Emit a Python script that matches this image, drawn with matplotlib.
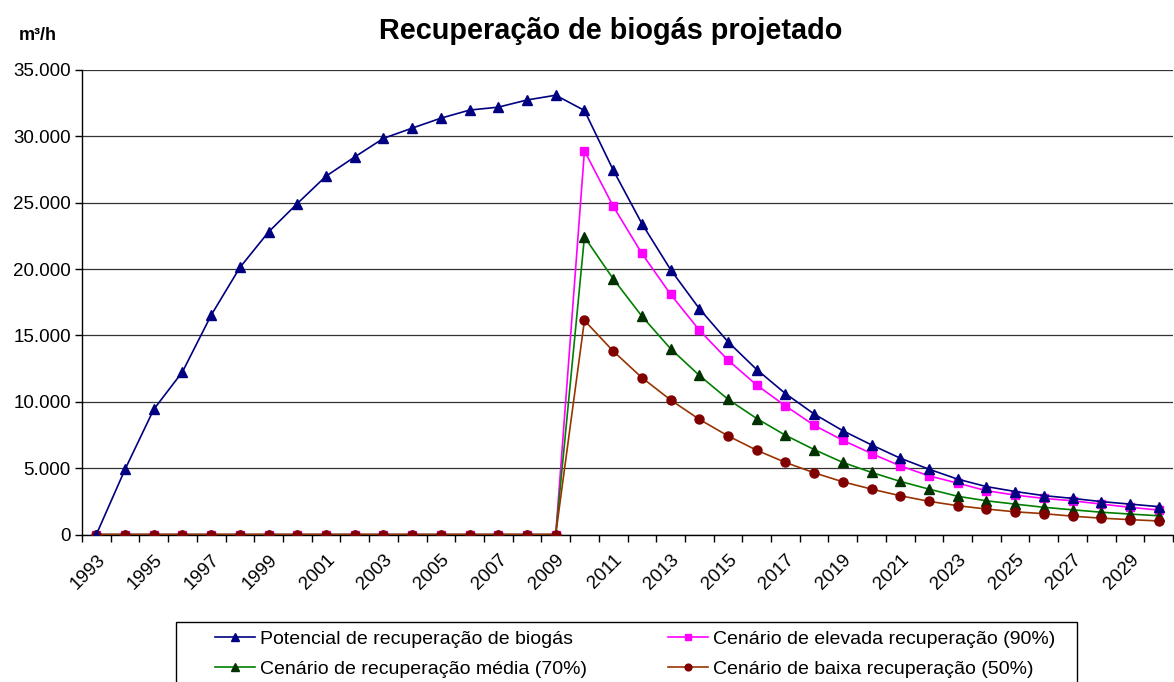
import matplotlib
matplotlib.use("Agg")
import matplotlib.pyplot as plt
from matplotlib.ticker import FixedLocator, FuncFormatter
from matplotlib.patches import Rectangle
import numpy as np

years = list(range(1993, 2031))
potencial = [0, 4910, 9430, 12260, 16530, 20120, 22800, 24940, 27000, 28450,
             29850, 30620, 31370, 31980, 32200, 32740, 33100, 31950, 27470, 23430,
             19960, 17020, 14520, 12430, 10620, 9080, 7820, 6750, 5750, 4920,
             4170, 3610, 3240, 2930, 2720, 2480, 2290, 2100]
elevada = [0]*17 + [28910, 24740, 21180, 18100, 15400, 13140, 11260, 9690, 8230,
                    7100, 6100, 5170, 4420, 3870, 3300, 2970, 2720, 2540, 2290, 2050, 1840]
media = [0]*17 + [22420, 19270, 16450, 14000, 11990, 10190, 8740, 7480, 6400,
                  5430, 4680, 4000, 3420, 2880, 2540, 2290, 2050, 1860, 1680, 1540, 1410]
baixa = [0]*17 + [16130, 13820, 11820, 10140, 8680, 7430, 6350, 5430, 4650,
                  3970, 3420, 2920, 2500, 2170, 1920, 1710, 1570, 1380, 1230, 1120, 1020]

labels = ["Potencial de recuperação de biogás",
          "Cenário de elevada recuperação (90%)",
          "Cenário de recuperação média (70%)",
          "Cenário de baixa recuperação (50%)"]

plt.rcParams['font.family'] = ['Liberation Sans', 'DejaVu Sans']

W, H = 1174, 682
fig = plt.figure(figsize=(W/100, H/100), dpi=100)
ax = fig.add_axes([82/W, 1-534.5/H, (1173-82)/W, (534.5-70)/H])

x = np.arange(len(years))
h1, = ax.plot(x, potencial, color='#000080', lw=1.2, marker='^', ms=7.5,
              mfc='#000080', mec='#000080', zorder=4)
h2, = ax.plot(x, elevada, color='#FF00FF', lw=1.2, marker='s', ms=6,
              mfc='#FF00FF', mec='#FF00FF', zorder=3)
h3, = ax.plot(x, media, color='#008000', lw=1.2, marker='^', ms=7.5,
              mfc='#003300', mec='#003300', zorder=3)
h4, = ax.plot(x, baixa, color='#993300', lw=1.2, marker='o', ms=6.5,
              mfc='#800000', mec='#800000', zorder=3)

ax.set_xlim(-0.5, len(years)-0.5)
ax.set_ylim(0, 35000)
ax.set_yticks(np.arange(0, 35001, 5000))
ax.yaxis.set_major_formatter(FuncFormatter(lambda v, p: "0" if v == 0 else f"{int(v):,}".replace(",", ".")))
ax.grid(axis='y', color='#333333', lw=0.9)
ax.set_axisbelow(True)

ax.set_xticks(x[::2])
ax.set_xticklabels([str(y) for y in years[::2]], rotation=45, ha='right',
                   rotation_mode='anchor')
ax.xaxis.set_minor_locator(FixedLocator(np.arange(-0.5, len(years), 1)))
ax.tick_params(axis='x', which='major', length=0, pad=12, labelsize=13.5)
ax.tick_params(axis='x', which='minor', length=5, width=1, color='black')
ax.tick_params(axis='y', length=5, width=1, labelsize=13.5, pad=3)

for s in ['top', 'right']:
    ax.spines[s].set_visible(False)
for s in ['left', 'bottom']:
    ax.spines[s].set_color('black')
    ax.spines[s].set_linewidth(1.0)

fig.text(611/W, 1-31/H, "Recuperação de biogás projetado", ha='center', va='center',
         fontsize=20.8, fontweight='bold')
fig.text(38/W, 1-36/H, "m³/h", ha='center', va='center', fontsize=13, fontweight='bold')

# legend frame
fig.patches.append(Rectangle((176/W, 1-700/H), (1077-176)/W, (700-622)/H,
                             transform=fig.transFigure, fill=False,
                             edgecolor='black', lw=1.0))

leg = fig.legend([h1, h3, h2, h4], [labels[0], labels[2], labels[1], labels[3]],
                 ncol=2, loc='upper left',
                 bbox_to_anchor=(215/W, 1-630/H), fontsize=14, frameon=False,
                 handlelength=2.06, handletextpad=0.26, columnspacing=4.17,
                 borderpad=0, labelspacing=0.67, borderaxespad=0, markerscale=0.75)

fig.savefig("out.png", dpi=100)
